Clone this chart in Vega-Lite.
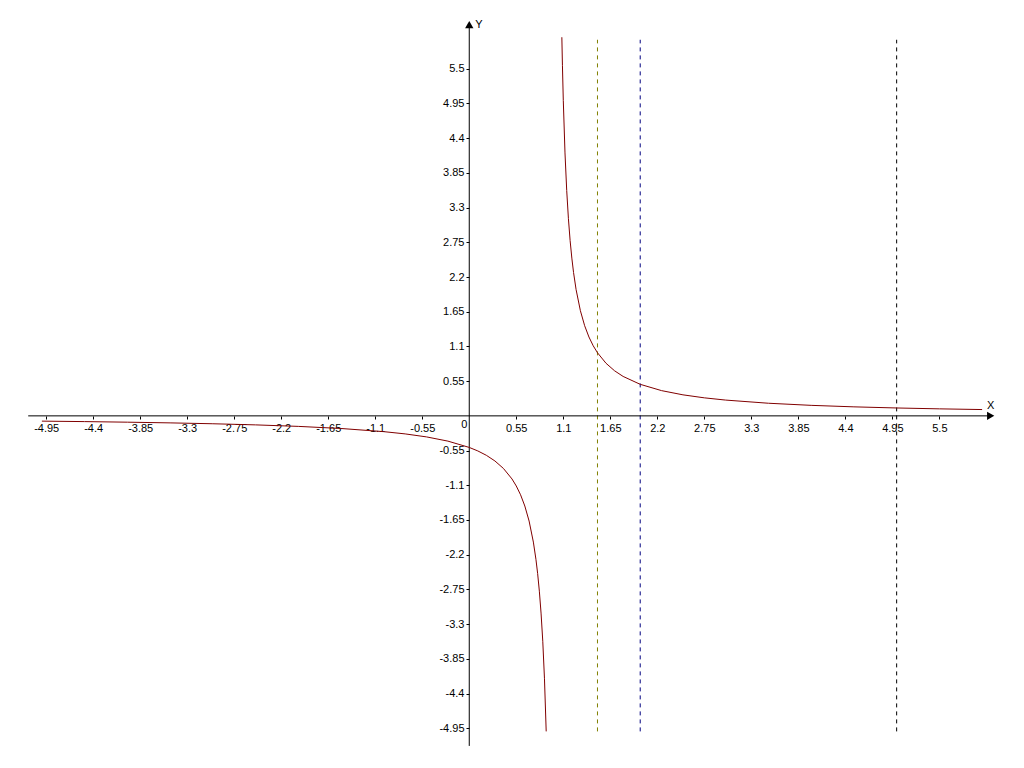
{
  "$schema": "https://vega.github.io/schema/vega-lite/v6.json",
  "width": 1024,
  "height": 768,
  "padding": 0,
  "autosize": {"type": "none"},
  "background": "white",
  "config": {"view": {"stroke": null}},
  "datasets": {
    "curve": [
      {"x": -5, "y": -0.08333, "branch": "left"},
      {"x": -4.5, "y": -0.09091, "branch": "left"},
      {"x": -4, "y": -0.1, "branch": "left"},
      {"x": -3.5, "y": -0.11111, "branch": "left"},
      {"x": -3, "y": -0.125, "branch": "left"},
      {"x": -2.5, "y": -0.14286, "branch": "left"},
      {"x": -2, "y": -0.16667, "branch": "left"},
      {"x": -1.5, "y": -0.2, "branch": "left"},
      {"x": -1, "y": -0.25, "branch": "left"},
      {"x": -0.75, "y": -0.28571, "branch": "left"},
      {"x": -0.5, "y": -0.33333, "branch": "left"},
      {"x": -0.25, "y": -0.4, "branch": "left"},
      {"x": 0, "y": -0.5, "branch": "left"},
      {"x": 0.1, "y": -0.55556, "branch": "left"},
      {"x": 0.2, "y": -0.625, "branch": "left"},
      {"x": 0.3, "y": -0.71429, "branch": "left"},
      {"x": 0.4, "y": -0.83333, "branch": "left"},
      {"x": 0.5, "y": -1, "branch": "left"},
      {"x": 0.55, "y": -1.11111, "branch": "left"},
      {"x": 0.6, "y": -1.25, "branch": "left"},
      {"x": 0.65, "y": -1.42857, "branch": "left"},
      {"x": 0.7, "y": -1.66667, "branch": "left"},
      {"x": 0.75, "y": -2, "branch": "left"},
      {"x": 0.78, "y": -2.27273, "branch": "left"},
      {"x": 0.8, "y": -2.5, "branch": "left"},
      {"x": 0.82, "y": -2.77778, "branch": "left"},
      {"x": 0.84, "y": -3.125, "branch": "left"},
      {"x": 0.86, "y": -3.57143, "branch": "left"},
      {"x": 0.88, "y": -4.16667, "branch": "left"},
      {"x": 0.9, "y": -5, "branch": "left"},
      {"x": 1.0833, "y": 6.0, "branch": "right"},
      {"x": 1.09, "y": 5.55556, "branch": "right"},
      {"x": 1.1, "y": 5, "branch": "right"},
      {"x": 1.12, "y": 4.16667, "branch": "right"},
      {"x": 1.14, "y": 3.57143, "branch": "right"},
      {"x": 1.16, "y": 3.125, "branch": "right"},
      {"x": 1.18, "y": 2.77778, "branch": "right"},
      {"x": 1.2, "y": 2.5, "branch": "right"},
      {"x": 1.22, "y": 2.27273, "branch": "right"},
      {"x": 1.25, "y": 2, "branch": "right"},
      {"x": 1.3, "y": 1.66667, "branch": "right"},
      {"x": 1.35, "y": 1.42857, "branch": "right"},
      {"x": 1.4, "y": 1.25, "branch": "right"},
      {"x": 1.45, "y": 1.11111, "branch": "right"},
      {"x": 1.5, "y": 1, "branch": "right"},
      {"x": 1.6, "y": 0.83333, "branch": "right"},
      {"x": 1.7, "y": 0.71429, "branch": "right"},
      {"x": 1.8, "y": 0.625, "branch": "right"},
      {"x": 2, "y": 0.5, "branch": "right"},
      {"x": 2.25, "y": 0.4, "branch": "right"},
      {"x": 2.5, "y": 0.33333, "branch": "right"},
      {"x": 2.75, "y": 0.28571, "branch": "right"},
      {"x": 3, "y": 0.25, "branch": "right"},
      {"x": 3.5, "y": 0.2, "branch": "right"},
      {"x": 4, "y": 0.16667, "branch": "right"},
      {"x": 4.5, "y": 0.14286, "branch": "right"},
      {"x": 5, "y": 0.125, "branch": "right"},
      {"x": 5.5, "y": 0.11111, "branch": "right"},
      {"x": 6, "y": 0.1, "branch": "right"}
    ],
    "vlines": [
      {"x": 1.5, "y": -5, "y2": 5.96, "line": "a"},
      {"x": 2, "y": -5, "y2": 5.96, "line": "b"},
      {"x": 5, "y": -5, "y2": 5.96, "line": "c"}
    ],
    "yaxisline": [{"x": 0, "y": -5.23, "y2": 6.2}],
    "xaxisline": [{"x": -5.16, "x2": 6.1, "y": 0}],
    "arrows": [
      {"x": 0, "y": 6.2, "shape": "triangle-up"},
      {"x": 6.1, "y": 0, "shape": "triangle-right"}
    ]
  },
  "encoding": {
    "x": {
      "field": "x",
      "type": "quantitative",
      "scale": {"domain": [-5.49, 6.49], "nice": false, "zero": false},
      "axis": {
        "orient": "bottom",
        "offset": -352,
        "title": null,
        "domain": false,
        "grid": false,
        "values": [-4.95, -4.4, -3.85, -3.3, -2.75, -2.2, -1.65, -1.1, -0.55, 0.55, 1.1, 1.65, 2.2, 2.75, 3.3, 3.85, 4.4, 4.95, 5.5],
        "labelExpr": "'' + datum.value",
        "tickSize": 3,
        "tickColor": "black",
        "labelColor": "black",
        "labelFont": "Liberation Sans",
        "labelFontSize": 11,
        "labelPadding": 3,
        "labelOverlap": false,
        "labelFlush": false,
        "labelBound": false
      }
    },
    "y": {
      "field": "y",
      "type": "quantitative",
      "scale": {"domain": [-5.58, 6.59], "nice": false, "zero": false},
      "axis": {
        "orient": "left",
        "offset": -469,
        "title": null,
        "domain": false,
        "grid": false,
        "values": [-4.95, -4.4, -3.85, -3.3, -2.75, -2.2, -1.65, -1.1, -0.55, 0.55, 1.1, 1.65, 2.2, 2.75, 3.3, 3.85, 4.4, 4.95, 5.5],
        "labelExpr": "'' + datum.value",
        "tickSize": 3,
        "tickColor": "black",
        "labelColor": "black",
        "labelFont": "Liberation Sans",
        "labelFontSize": 11,
        "labelPadding": 2,
        "labelOverlap": false,
        "labelFlush": false,
        "labelBound": false
      }
    }
  },
  "layer": [
    {
      "data": {"name": "vlines"},
      "mark": {"type": "rule", "strokeDash": [4, 4], "strokeWidth": 1},
      "encoding": {
        "y2": {"field": "y2"},
        "color": {
          "field": "line",
          "type": "nominal",
          "scale": {"domain": ["a", "b", "c"], "range": ["#808000", "#000080", "#000000"]},
          "legend": null
        }
      }
    },
    {
      "data": {"name": "yaxisline"},
      "mark": {"type": "rule", "color": "black", "strokeWidth": 1},
      "encoding": {"y2": {"field": "y2"}}
    },
    {
      "data": {"name": "xaxisline"},
      "mark": {"type": "rule", "color": "black", "strokeWidth": 1},
      "encoding": {"x2": {"field": "x2"}}
    },
    {
      "data": {"name": "curve"},
      "mark": {"type": "line", "color": "#800000", "strokeWidth": 1},
      "encoding": {"detail": {"field": "branch"}}
    },
    {
      "data": {"name": "arrows"},
      "mark": {"type": "point", "filled": true, "color": "black", "size": 70, "opacity": 1},
      "encoding": {"shape": {"field": "shape", "type": "nominal", "scale": null}}
    },
    {
      "data": {"values": [{"x": 0, "y": 6.2, "label": "Y"}]},
      "mark": {"type": "text", "align": "left", "baseline": "middle", "dx": 6, "font": "Liberation Sans", "fontSize": 11, "color": "black"},
      "encoding": {"text": {"field": "label"}}
    },
    {
      "data": {"values": [{"x": 6.1, "y": 0, "label": "X"}]},
      "mark": {"type": "text", "align": "center", "baseline": "middle", "dy": -10, "font": "Liberation Sans", "fontSize": 11, "color": "black"},
      "encoding": {"text": {"field": "label"}}
    },
    {
      "data": {"values": [{"x": 0, "y": 0, "label": "0"}]},
      "mark": {"type": "text", "align": "right", "baseline": "top", "dx": -2, "dy": 3, "font": "Liberation Sans", "fontSize": 11, "color": "black"},
      "encoding": {"text": {"field": "label"}}
    }
  ]
}
